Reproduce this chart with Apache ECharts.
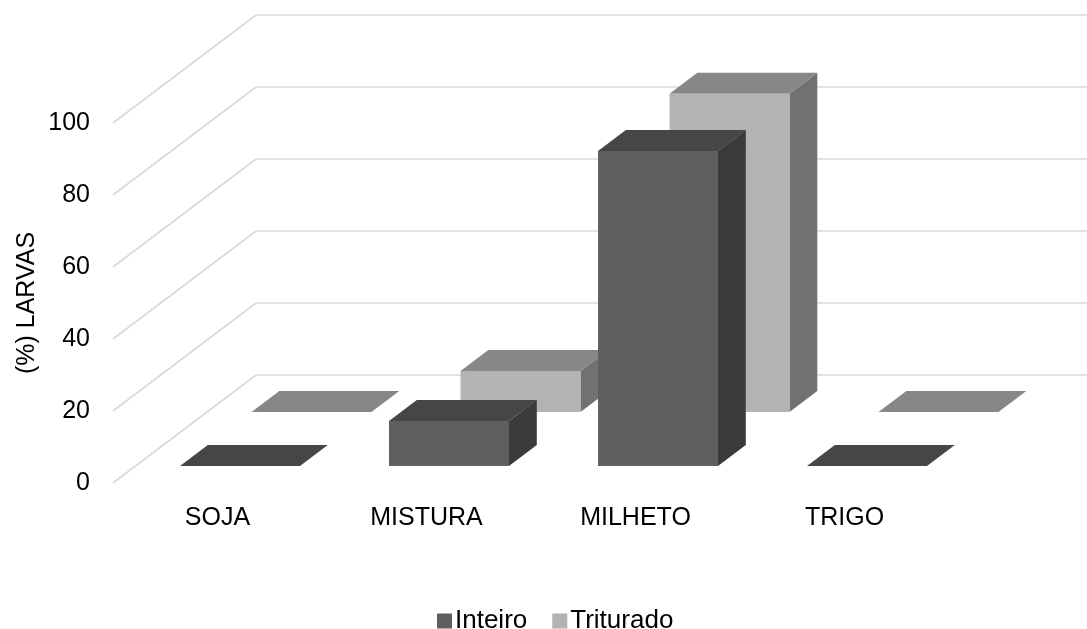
<!DOCTYPE html>
<html>
<head>
<meta charset="utf-8">
<script src="https://cdn.jsdelivr.net/npm/echarts@6/dist/echarts.min.js"></script>
<style>
  html, body { margin: 0; padding: 0; background: #fff; }
  #chart { width: 1087px; height: 629px; }
</style>
</head>
<body>
<div id="chart"></div>
<script>
// Larval percentage per feed type, whole vs. ground grain
const categories = ['SOJA', 'MISTURA', 'MILHETO', 'TRIGO'];
const seriesNames = ['Inteiro', 'Triturado'];
const inteiro = [0, 12.5, 87.5, 0];
const triturado = [0, 11.4, 88.4, 0];
const yTicks = [0, 20, 40, 60, 80, 100];

// Oblique projection used to fake depth: a point pushed back by d pixels
// moves up by d and right by d * SLOPE.
const SLOPE = 1.324;
const WALL_DEPTH = 108;   // floor depth, front edge to back wall
const BAR_DEPTH = 21;     // thickness of every column
const ROW_FRONT = [17, 71]; // front face of each series row
const BAR_RATIO = 0.574;  // column width as a share of a category band

const FACE = [
  { front: '#5f5f5f', top: '#464646', side: '#3b3b3b' },
  { front: '#b3b3b3', top: '#878787', side: '#717171' }
];

function shift(d) { return [d * SLOPE, -d]; }

function columnRenderer(row) {
  const c = FACE[row];
  return function (params, api) {
    const cat = api.value(0);
    const val = api.value(1);
    const base = api.coord([cat, 0]);
    const top = api.coord([cat, val]);
    const w = api.size([1, 0])[0] * BAR_RATIO;
    const f = shift(ROW_FRONT[row]);
    const b = shift(ROW_FRONT[row] + BAR_DEPTH);
    const dx = b[0] - f[0], dy = b[1] - f[1];
    const xl = base[0] - w / 2 + f[0];
    const xr = base[0] + w / 2 + f[0];
    const yb = base[1] + f[1];
    const yt = top[1] + f[1];
    const children = [
      {
        type: 'polygon',
        shape: { points: [[xr, yt], [xr + dx, yt + dy], [xr + dx, yb + dy], [xr, yb]] },
        style: { fill: c.side }
      },
      {
        type: 'polygon',
        shape: { points: [[xl, yt], [xr, yt], [xr + dx, yt + dy], [xl + dx, yt + dy]] },
        style: { fill: c.top }
      }
    ];
    if (yb - yt > 0.5) {
      children.push({
        type: 'rect',
        shape: { x: xl, y: yt, width: w, height: yb - yt },
        style: { fill: c.front }
      });
    }
    return { type: 'group', children: children };
  };
}

// Side-wall and back-wall gridlines for each value tick
function wallRenderer(params, api) {
  const v = api.value(1);
  const p = api.coord([0, v]);
  const cs = params.coordSys;
  const back = shift(WALL_DEPTH);
  const y = p[1];
  return {
    type: 'polyline',
    shape: {
      points: [
        [cs.x, y],
        [cs.x + back[0], y + back[1]],
        [cs.x + cs.width + back[0], y + back[1]]
      ]
    },
    style: { stroke: '#d9d9d9', lineWidth: 1.6, fill: null }
  };
}

const chart = echarts.init(document.getElementById('chart'));
const font = 'Liberation Sans, Arial, sans-serif';

chart.setOption({
  animation: false,
  backgroundColor: '#ffffff',
  grid: { left: 113, right: 138, top: 123, bottom: 146, containLabel: false },
  legend: {
    data: seriesNames,
    left: 432,
    top: 603,
    icon: 'rect',
    itemWidth: 15,
    itemHeight: 15,
    itemGap: 25,
    textStyle: { fontFamily: font, fontSize: 26, color: '#000', padding: [0, 0, 0, -2] }
  },
  graphic: [
    {
      type: 'text',
      x: 27,
      y: 303,
      rotation: Math.PI / 2,
      style: {
        text: '(%) LARVAS',
        font: '25px ' + font,
        fill: '#000',
        align: 'center',
        verticalAlign: 'middle'
      }
    }
  ],
  xAxis: {
    type: 'category',
    data: categories,
    axisLine: { show: false },
    axisTick: { show: false },
    axisLabel: { fontFamily: font, fontSize: 25, color: '#000', margin: 23 }
  },
  yAxis: {
    type: 'value',
    min: 0,
    max: 100,
    interval: 20,
    axisLine: { show: false },
    axisTick: { show: false },
    splitLine: { show: false },
    axisLabel: { fontFamily: font, fontSize: 25, color: '#000', margin: 23 }
  },
  series: [
    {
      name: 'walls',
      type: 'custom',
      renderItem: wallRenderer,
      data: yTicks.map(function (v) { return [0, v]; }),
      silent: true,
      z: 1
    },
    {
      name: seriesNames[1],
      type: 'custom',
      renderItem: columnRenderer(1),
      itemStyle: { color: FACE[1].front },
      data: triturado.map(function (v, i) { return [i, v]; }),
      z: 2
    },
    {
      name: seriesNames[0],
      type: 'custom',
      renderItem: columnRenderer(0),
      itemStyle: { color: FACE[0].front },
      data: inteiro.map(function (v, i) { return [i, v]; }),
      z: 3
    }
  ]
});
</script>
</body>
</html>
